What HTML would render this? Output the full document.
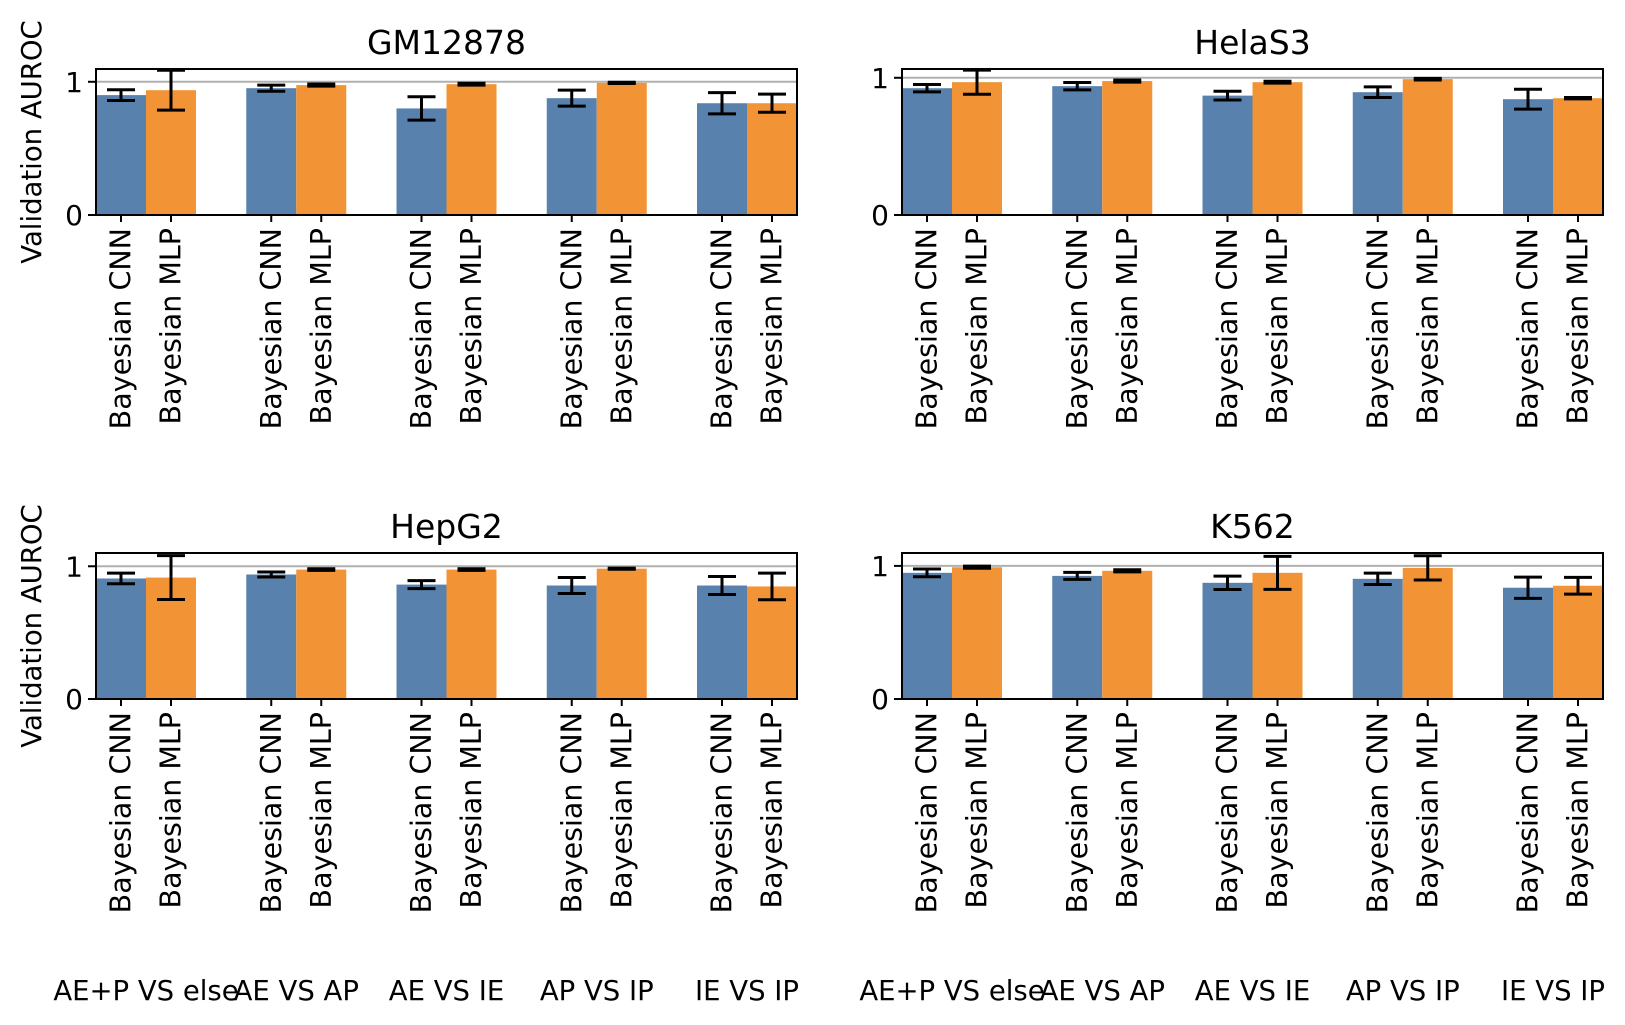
<!DOCTYPE html>
<html><head><meta charset="utf-8"><style>
html,body{margin:0;padding:0;background:#fff;}
svg{display:block;font-family:"DejaVu Sans","Liberation Sans",sans-serif;}
</style></head><body>
<svg id="fig" width="1625" height="1025" viewBox="0 0 1625 1025" xmlns="http://www.w3.org/2000/svg"></svg>
<script>
const groups = ["AE+P VS else","AE VS AP","AE VS IE","AP VS IP","IE VS IP"];
const models = ["Bayesian CNN","Bayesian MLP"];
const panelTitles = ["GM12878","HelaS3","HepG2","K562"];
const yTicks = [0,1];
const yMaxes = [1.096,1.064,1.10,1.097];
const gmCnn = [0.90,0.952,0.80,0.877,0.839];
const gmCnnErr = [0.04,0.023,0.088,0.06,0.08];
const gmMlp = [0.937,0.975,0.982,0.992,0.839];
const gmMlpErr = [0.15,0.008,0.007,0.005,0.068];
const helaCnn = [0.924,0.939,0.870,0.895,0.844];
const helaCnnErr = [0.027,0.027,0.032,0.039,0.072];
const helaMlp = [0.968,0.976,0.968,0.99,0.851];
const helaMlpErr = [0.088,0.008,0.007,0.006,0.005];
const hepCnn = [0.908,0.938,0.862,0.855,0.855];
const hepCnnErr = [0.04,0.019,0.03,0.06,0.068];
const hepMlp = [0.915,0.975,0.975,0.982,0.848];
const hepMlpErr = [0.165,0.006,0.006,0.004,0.10];
const kCnn = [0.948,0.925,0.873,0.903,0.836];
const kCnnErr = [0.029,0.026,0.05,0.043,0.08];
const kMlp = [0.99,0.963,0.948,0.985,0.851];
const kMlpErr = [0.008,0.008,0.124,0.091,0.063];

const NS="http://www.w3.org/2000/svg";
const svg=document.getElementById('fig');
function mk(tag,attrs,parent){const e=document.createElementNS(NS,tag);for(const k in attrs)e.setAttribute(k,attrs[k]);(parent||svg).appendChild(e);return e;}
const panels=[
 {x:96,y:69,cnn:gmCnn,ce:gmCnnErr,mlp:gmMlp,me:gmMlpErr},
 {x:902,y:69,cnn:helaCnn,ce:helaCnnErr,mlp:helaMlp,me:helaMlpErr},
 {x:96,y:553,cnn:hepCnn,ce:hepCnnErr,mlp:hepMlp,me:hepMlpErr},
 {x:902,y:553,cnn:kCnn,ce:kCnnErr,mlp:kMlp,me:kMlpErr}
];
const W=701,H=146,BW=50,GS=150.25;
panels.forEach((p,pi)=>{
  const g=mk('g',{});
  
  
  const ymax=yMaxes[pi];
  const ys=v=>p.y+H-v/ymax*H;
  const gx=i=>p.x+BW+i*GS;
  const gl=mk('line',{x1:p.x,x2:p.x+W,y1:ys(1),y2:ys(1),stroke:'#b0b0b0','stroke-width':2},g);
  
  
  [p.cnn,p.mlp].forEach((vals,si)=>{
    const errs=si===0?p.ce:p.me;
    vals.forEach((v,i)=>{
      const x0=gx(i)-BW+si*BW;
      const r=mk('rect',{x:x0,y:ys(v),width:BW,height:ys(0)-ys(v),fill:si===0?'#5881ad':'#f29436'},g);
      
      
      const cx=x0+BW/2,e=errs[i];
      const eg=mk('g',{stroke:'#000','stroke-width':3},g);
      
      
      mk('line',{x1:cx,x2:cx,y1:ys(v-e),y2:ys(v+e)},eg);
      mk('line',{x1:cx-14,x2:cx+14,y1:ys(v-e),y2:ys(v-e)},eg);
      mk('line',{x1:cx-14,x2:cx+14,y1:ys(v+e),y2:ys(v+e)},eg);
      mk('line',{x1:cx,x2:cx,y1:p.y+H,y2:p.y+H+7,stroke:'#000','stroke-width':2},g);
      const t=mk('text',{x:0,y:0,'font-size':28.5,'text-anchor':'end','dominant-baseline':'central',transform:`translate(${cx},${p.y+H+13}) rotate(-90)`},g);
      t.textContent=models[si];
      
      
    });
  });
  const fr=mk('rect',{x:p.x,y:p.y,width:W,height:H,fill:'none',stroke:'#000','stroke-width':2},g);
  
  
  yTicks.forEach(v=>{
    mk('line',{x1:p.x-8,x2:p.x,y1:ys(v),y2:ys(v),stroke:'#000','stroke-width':2},g);
    const t=mk('text',{x:p.x-13,y:ys(v)+10,'font-size':28,'text-anchor':'end'},g);
    t.textContent=v;
    
    
  });
  const tt=mk('text',{x:p.x+W/2,y:p.y-15,'font-size':33,'text-anchor':'middle'},g);
  tt.textContent=panelTitles[pi];
  
  
  if(pi%2===0){
    const yl=mk('text',{x:0,y:0,'font-size':27.5,'text-anchor':'middle',transform:`translate(41,${p.y+H/2}) rotate(-90)`},g);
    yl.textContent='Validation AUROC';
    
    
  }
  if(pi>=2){
    groups.forEach((gn,i)=>{
      const t=mk('text',{x:gx(i),y:1000,'font-size':27.5,'text-anchor':'middle'},g);
      t.textContent=gn;
      
      
    });
  }
});
</script>
</body></html>
